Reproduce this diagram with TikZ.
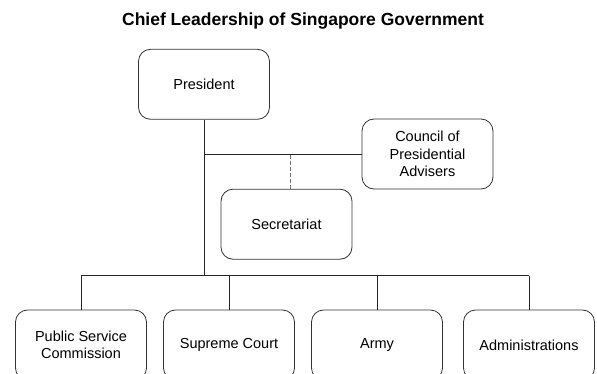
\documentclass[tikz,border=0pt]{standalone}
\usepackage{fontspec}
\setmainfont{Liberation Sans}
\begin{document}
\begin{tikzpicture}[x=1pt,y=-1pt,
  box/.style={draw=black!80,line width=0.8pt,rounded corners=12pt,minimum width=131pt,minimum height=70pt,align=center,font=\fontsize{14.5}{17.5}\selectfont},
  link/.style={line width=0.8pt,black!85}]
\clip (0,0) rectangle (597,374);
\node[font=\bfseries\fontsize{17.5}{20}\selectfont] (title) at (303,21) {Chief Leadership of Singapore Government};
\node[box] (pres) at (204,84.3) {President};
\node[box] (council) at (427.5,154) {Council of\\Presidential\\Advisers};
\node[box] (sec) at (286.5,224.2) {Secretariat};
\coordinate (hub) at (204,154);
\coordinate (fork) at (204,275.5);
\draw[link] (pres.south) -- (fork);
\draw[link] (hub) -- (council.west);
\draw[link,black!55,dash pattern=on 4pt off 2pt] ([xshift=4pt]sec.north) -- ([xshift=4pt]sec.north |- hub);
\foreach \n/\x/\lbl in {psc/81/{Public Service\\Commission},court/229/{Supreme Court},army/377/{Army},admin/529/{Administrations}}{
  \node[box] (\n) at (\x,345) {\lbl};
  \draw[link] (\n.north) -- (\n.north |- fork);
}
\draw[link] (psc.north |- fork) -- (admin.north |- fork);
\end{tikzpicture}
\end{document}
